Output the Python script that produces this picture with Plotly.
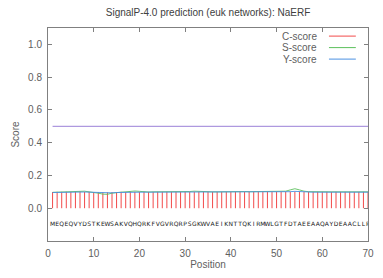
import plotly.graph_objects as go

sequence = list("MEQEQVYDSTKEWSAKVQHQRKFVGVRQRPSGKWVAEIKNTTQKIRMWLGTFDTAEEAAQAYDEAACLLR")
positions = list(range(1, 71))

c_score = [0.099, 0.100, 0.100, 0.100, 0.100, 0.101, 0.101, 0.100, 0.100, 0.099,
           0.098, 0.097, 0.097, 0.098, 0.099, 0.100, 0.100, 0.101, 0.101, 0.100,
           0.100, 0.100, 0.100, 0.100, 0.100, 0.100, 0.100, 0.100, 0.100, 0.100,
           0.100, 0.101, 0.100, 0.100, 0.100, 0.100, 0.100, 0.100, 0.100, 0.100,
           0.100, 0.100, 0.100, 0.100, 0.100, 0.100, 0.100, 0.100, 0.100, 0.100,
           0.100, 0.100, 0.101, 0.102, 0.101, 0.100, 0.100, 0.100, 0.100, 0.100,
           0.100, 0.100, 0.100, 0.100, 0.100, 0.100, 0.100, 0.100, 0.100, 0.100]
s_score = [0.097, 0.098, 0.098, 0.099, 0.100, 0.104, 0.106, 0.104, 0.100, 0.098,
           0.092, 0.086, 0.085, 0.092, 0.097, 0.098, 0.100, 0.104, 0.105, 0.103,
           0.100, 0.099, 0.100, 0.100, 0.100, 0.100, 0.100, 0.099, 0.100, 0.100,
           0.102, 0.104, 0.102, 0.100, 0.100, 0.100, 0.100, 0.101, 0.102, 0.102,
           0.101, 0.102, 0.102, 0.101, 0.101, 0.100, 0.100, 0.100, 0.100, 0.100,
           0.100, 0.104, 0.112, 0.119, 0.112, 0.104, 0.101, 0.100, 0.101, 0.102,
           0.101, 0.100, 0.100, 0.101, 0.100, 0.100, 0.100, 0.100, 0.100, 0.100]
y_score = [0.096, 0.097, 0.097, 0.098, 0.098, 0.099, 0.100, 0.099, 0.098, 0.097,
           0.095, 0.093, 0.093, 0.094, 0.096, 0.097, 0.098, 0.099, 0.099, 0.098,
           0.098, 0.098, 0.098, 0.098, 0.098, 0.098, 0.098, 0.098, 0.098, 0.098,
           0.099, 0.099, 0.099, 0.098, 0.098, 0.098, 0.098, 0.098, 0.099, 0.099,
           0.099, 0.099, 0.099, 0.099, 0.098, 0.098, 0.098, 0.098, 0.098, 0.098,
           0.098, 0.099, 0.101, 0.103, 0.101, 0.099, 0.098, 0.098, 0.098, 0.099,
           0.098, 0.098, 0.098, 0.098, 0.098, 0.098, 0.098, 0.098, 0.098, 0.098]
threshold = 0.5
seq_y = -0.1

x_ticks = [0, 10, 20, 30, 40, 50, 60, 70]
y_ticks = [0.0, 0.2, 0.4, 0.6, 0.8, 1.0]
y_tick_labels = ["0.0", "0.2", "0.4", "0.6", "0.8", "1.0"]

RED = "#f24a4a"
GREEN = "#5cc05c"
BLUE = "#4a90e2"
PURPLE = "#9a80d8"
GRAY = "#606060"
FONT = "Liberation Sans, Arial, sans-serif"

# impulses for C-score
bx, by = [], []
for p, c in zip(positions, c_score):
    bx += [p, p, None]
    by += [0, c, None]

fig = go.Figure()
fig.add_trace(go.Scatter(x=bx, y=by, mode="lines", line=dict(color=RED, width=1),
                         showlegend=False, hoverinfo="skip"))
fig.add_trace(go.Scatter(x=positions, y=s_score, mode="lines", line=dict(color=GREEN, width=0.9),
                         showlegend=False))
fig.add_trace(go.Scatter(x=positions, y=y_score, mode="lines", line=dict(color=BLUE, width=0.9),
                         showlegend=False))
fig.add_trace(go.Scatter(x=[positions[0], positions[-1]], y=[threshold, threshold], mode="lines",
                         line=dict(color=PURPLE, width=1), showlegend=False))
fig.add_trace(go.Scatter(x=positions, y=[seq_y] * len(positions), mode="text", text=sequence,
                         textfont=dict(family="DejaVu Sans, sans-serif", size=6, color="#202020"),
                         showlegend=False, hoverinfo="skip"))

# gnuplot-style legend: right-aligned label then line sample
legend_items = [("C-score", RED), ("S-score", GREEN), ("Y-score", BLUE)]
legend_y = [0.962, 0.908, 0.854]
for (name, col), ly in zip(legend_items, legend_y):
    fig.add_annotation(x=0.846, y=ly, xref="paper", yref="paper", text=name, showarrow=False,
                       xanchor="right", yanchor="middle",
                       font=dict(family=FONT, size=10, color=GRAY))
    fig.add_shape(type="line", xref="paper", yref="paper", x0=0.878, x1=0.962, y0=ly, y1=ly,
                  line=dict(color=col, width=1))

axis_common = dict(showline=True, linecolor="#808080", linewidth=1, mirror="ticks",
                   ticks="inside", ticklen=4, tickcolor="#808080", showgrid=False,
                   zeroline=False, automargin=False,
                   tickfont=dict(family=FONT, size=10, color=GRAY))

fig.update_layout(
    width=383, height=278,
    margin=dict(l=48, r=15, t=28, b=37, autoexpand=False),
    paper_bgcolor="white", plot_bgcolor="white",
    title=dict(text="SignalP-4.0 prediction (euk networks): NaERF", x=0.5, xref="paper",
               y=0.955, yref="container", yanchor="middle", automargin=False,
               font=dict(family=FONT, size=10, color="#404040")),
    xaxis=dict(range=[0, 70], tickvals=x_ticks, ticklabelstandoff=3,
               title=dict(text="Position", standoff=2, font=dict(family=FONT, size=10, color=GRAY)),
               **axis_common),
    yaxis=dict(range=[-0.2, 1.1], tickvals=y_ticks, ticktext=y_tick_labels, ticklabelstandoff=3,
               title=dict(text="Score", standoff=6, font=dict(family=FONT, size=10, color=GRAY)),
               **axis_common),
)

fig.write_html("out.html", config={"displayModeBar": False, "responsive": False},
               post_script="document.body.style.margin='0px';")
